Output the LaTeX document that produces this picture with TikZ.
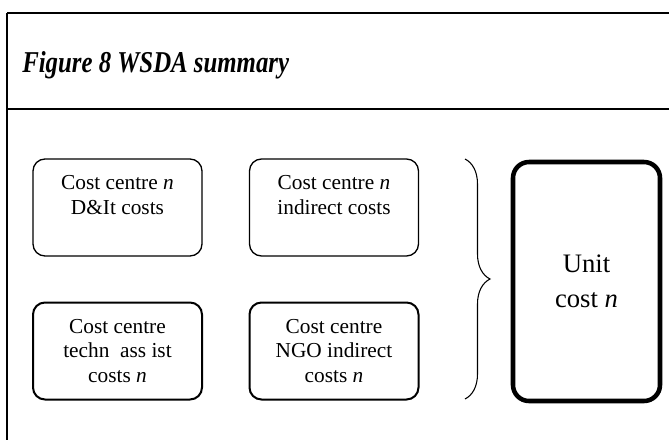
\documentclass[tikz,border=0pt]{standalone}
\usepackage{fontspec}
\setmainfont{Liberation Serif}
\usetikzlibrary{decorations.pathreplacing}
\newcommand{\boxfont}{\fontsize{16}{18.5}\selectfont}

\begin{document}
\begin{tikzpicture}[x=0.75pt,y=-0.75pt,
  costbox/.style={draw,rounded corners=9pt,minimum width=126.75pt,minimum height=72.75pt,align=center,font=\boxfont,inner sep=0pt}]
\useasboundingbox (0,0) rectangle (669,440);
% frame
\draw[line width=1.5pt] (7,13) -- (669,13);
\draw[line width=1.5pt] (7,13) -- (7,440);
\draw[line width=2.2pt] (7,109) -- (669,109);
\node(title) at (22,72)[anchor=base west,inner sep=0pt,font=\fontsize{22.7}{27}\selectfont\bfseries\itshape] {\scalebox{0.82}[1]{Figure 8 WSDA summary}};
% cost centres
\node(dit) at (117.5,207.5)[costbox,line width=1pt] {Cost centre \textit{n}\\D\&It costs\\ \mbox{}};
\node(ind) at (334,207.5)[costbox,line width=1pt] {Cost centre \textit{n}\\indirect costs\\ \mbox{}};
\node(tech) at (117.5,351)[costbox,line width=1.5pt] {Cost centre\\techn\ \ ass ist\\costs \textit{n}};
\node(ngo) at (334,351)[costbox,line width=1.5pt] {Cost centre\\NGO indirect\\costs \textit{n}};
%\draw[dashed] (ind.east) -- (unit.west);
\coordinate(bracetop) at (465,159);
\coordinate(bracebot) at (465,399);
\draw[line width=0.8pt,decorate,decoration={brace,amplitude=18.75pt}] (bracetop) -- (bracebot);
\node(unit) at (586.5,281.5)[draw,line width=3.4pt,rounded corners=12pt,minimum width=110.25pt,minimum height=179.25pt,align=center,font=\fontsize{20}{26}\selectfont] {Unit\\cost \textit{n}};
\end{tikzpicture}
\end{document}
